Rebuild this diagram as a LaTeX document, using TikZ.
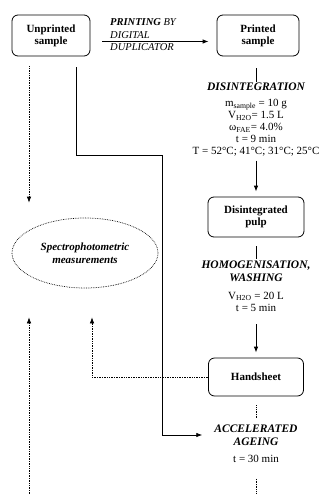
\documentclass[tikz,border=0pt]{standalone}
\usepackage{fontspec}
\setmainfont{Liberation Serif}
\usetikzlibrary{positioning,calc,shapes.geometric,arrows.meta}

\begin{document}
\begin{tikzpicture}[x=1pt,y=-1pt,
>={Latex[length=6pt,width=4.5pt]},
stagebox/.style={rectangle, rounded corners=6pt, draw, line width=0.8pt, align=center, font=\bfseries\fontsize{11}{12}\selectfont},
stagename/.style={align=center, inner sep=0pt, font=\bfseries\itshape\fontsize{11.5}{13}\selectfont},
condtext/.style={align=center, inner sep=0pt, font=\fontsize{11}{12}\selectfont},
measureshape/.style={ellipse, draw, densely dotted, line width=0.7pt, minimum width=146pt, minimum height=70pt, align=center, font=\bfseries\itshape\fontsize{11}{13}\selectfont},
solidline/.style={line width=0.8pt},
dottedline/.style={line width=0.7pt, densely dotted},
]
\useasboundingbox (0,0) rectangle (320,494);

%Boxes
\node[stagebox, minimum width=78pt, minimum height=41pt] (unprinted) at (51,35.5) {Unprinted\\sample};
\node[stagebox, minimum width=82pt, minimum height=41pt] (printed)   at (258,35.5) {Printed\\sample};
\node[stagebox, minimum width=96pt, minimum height=40pt] (pulp)      at (256,217) {Disintegrated\\pulp};
\node[stagebox, minimum width=95pt, minimum height=38pt] (handsheet) at (256,377) {Handsheet};
\node[measureshape] (spectro) at (85,253) {Spectrophotometric\\measurements};

%Labels
\node[anchor=west, align=left, inner sep=0pt, font=\itshape\fontsize{10.5}{12.5}\selectfont] (printing) at (110,35) {\textbf{PRINTING} BY\\DIGITAL\\DUPLICATOR};
\node[stagename] (disint)     at (256,87)    {DISINTEGRATION};
\node[condtext]  (disintcond) at (256,128)   {m\textsubscript{sample} = 10 g\\V\textsubscript{H2O}= 1.5 L\\ω\textsubscript{FAE}= 4.0\%\\t = 9 min\\T = 52°C; 41°C; 31°C; 25°C};
\node[stagename] (homog)      at (256,271.5) {HOMOGENISATION,\\WASHING};
\node[condtext]  (homogcond)  at (256,301.5) {V\textsubscript{H2O} = 20 L\\t = 5 min};
\node[stagename] (ageing)     at (256,435)   {ACCELERATED\\AGEING};
\node[condtext]  (ageingcond) at (256,459)   {t = 30 min};

%Main line
\draw[solidline,->] ($(unprinted.east)+(12,6)$) -- ($(printed.west)+(-8,6)$);
\draw[solidline] ($(printed.south -| disint.north)+(0,12)$) -- ($(disint.north)+(0,-1)$);
\draw[solidline,->] ($(disintcond.south)+(0,4)$) -- ($(pulp.north)+(0,-5)$);
\draw[solidline] ($(pulp.south)+(0,9)$) -- ($(homog.north)+(0,-2)$);
\draw[solidline,->] ($(homogcond.south)+(0,13)$) -- ($(handsheet.north)+(0,-5)$);
\draw[dottedline] ($(handsheet.south)+(0,9)$) -- ($(ageing.north)+(0,-7)$);
\coordinate (columnend) at (256,494);
\draw[dottedline] ($(ageingcond.south)+(0,16)$) -- (columnend);

%Unprinted sample to ageing
\coordinate (samplebend) at (162,155);
\draw[solidline,->] ($(unprinted.south)+(25,11)$) |- (samplebend) |- ($(ageing.west)+(-12,0)$);

%Measurements
\draw[dottedline,->] ($(unprinted.south)+(-22,10)$) -- ($(spectro.north -| unprinted.south)+(-22,-15)$);
\draw[dottedline,->] (handsheet.west) -| ($(spectro.south)+(7,29)$);
\coordinate (spectroinput) at (29,494);
\draw[dottedline,->] (spectroinput) -- ($(spectroinput |- spectro.south)+(0,29)$);
\end{tikzpicture}
\end{document}
